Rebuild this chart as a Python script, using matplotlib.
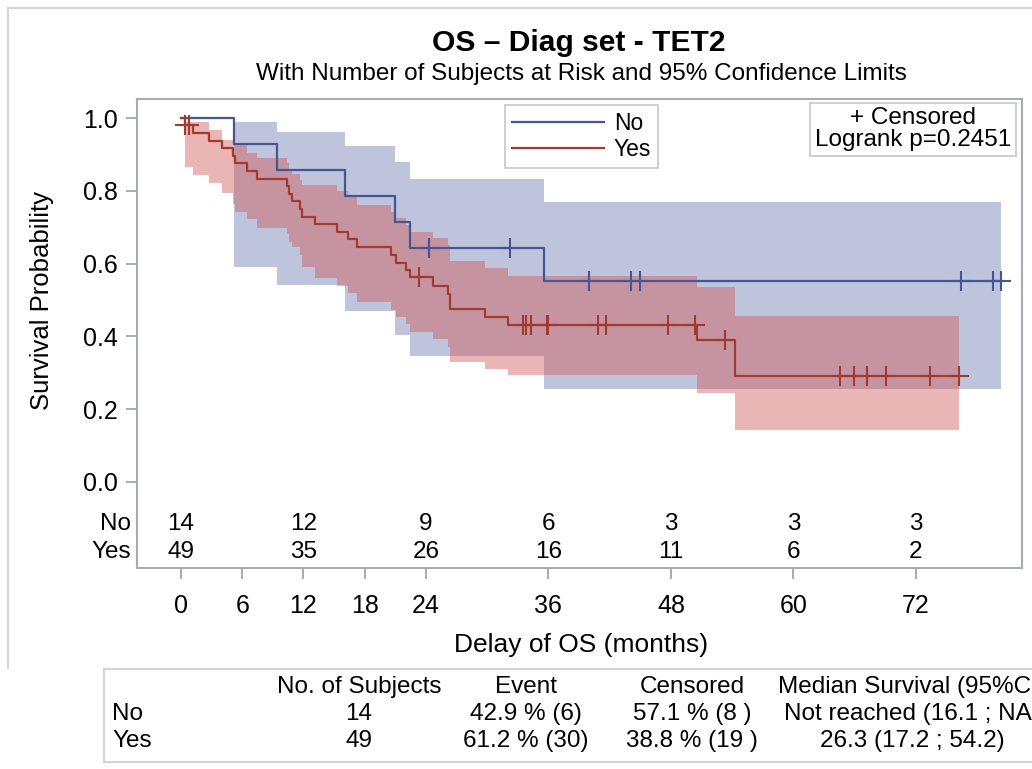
import numpy as np
import matplotlib.pyplot as plt
from matplotlib.lines import Line2D

plt.rcParams['font.family'] = ['Liberation Sans', 'DejaVu Sans']

# Kaplan-Meier steps (time in months, survival after the step)
no_time = [0, 5.2, 9.4, 16.1, 21.0, 22.4, 35.6]
no_surv = [1.0, 0.929, 0.857, 0.786, 0.714, 0.643, 0.551]
no_upper = [1.0, 0.988, 0.961, 0.924, 0.880, 0.832, 0.768]
no_lower = [1.0, 0.591, 0.541, 0.471, 0.404, 0.346, 0.255]
no_end = 80.3
no_cens = [24.3, 32.2, 40.0, 44.1, 45.0, 76.4, 79.6, 80.3]

yes_time = [0, 0.35, 1.2, 2.75, 3.98, 5.12, 5.3, 6.43, 7.48, 10.4, 10.6, 10.84, 11.66, 11.82,
            13.13, 15.31, 16.39, 17.2, 20.54, 21.06, 22.04, 22.43, 24.65, 26.18, 26.35, 29.78,
            32.06, 50.55, 54.27]
yes_surv = [1.0, 0.980, 0.960, 0.938, 0.917, 0.896, 0.876, 0.854, 0.833, 0.812, 0.792, 0.771,
            0.750, 0.729, 0.709, 0.688, 0.667, 0.645, 0.624, 0.603, 0.582, 0.562, 0.538, 0.516,
            0.474, 0.454, 0.431, 0.390, 0.291]
yes_upper = [1.0, 0.990, 0.990, 0.967, 0.940, 0.935, 0.925, 0.905, 0.890, 0.875, 0.860, 0.845,
             0.830, 0.816, 0.816, 0.800, 0.788, 0.761, 0.743, 0.724, 0.706, 0.688, 0.669, 0.650,
             0.608, 0.587, 0.566, 0.535, 0.457]
yes_lower = [1.0, 0.865, 0.843, 0.821, 0.793, 0.765, 0.743, 0.722, 0.697, 0.680, 0.660, 0.646,
             0.624, 0.590, 0.560, 0.538, 0.518, 0.495, 0.473, 0.454, 0.434, 0.413, 0.392, 0.370,
             0.330, 0.310, 0.293, 0.244, 0.143]
yes_end = 76.2
yes_cens = [0.4, 0.8, 23.35, 33.54, 33.77, 34.26, 35.83, 35.98, 40.81, 41.63, 47.67, 50.4,
            53.3, 64.6, 65.9, 67.2, 69.05, 73.4, 76.2]

# numbers at risk
risk_times = [0, 12, 24, 36, 48, 60, 72]
risk_no = [14, 12, 9, 6, 3, 3, 3]
risk_yes = [49, 35, 26, 16, 11, 6, 2]
xticks = [0, 6, 12, 18, 24, 36, 48, 60, 72]

# summary table
tab_header = ['No. of Subjects', 'Event', 'Censored', 'Median Survival (95%CI)']
tab_rows = ['No', 'Yes']
tab_subjects = ['14', '49']
tab_event = ['42.9 % (6)', '61.2 % (30)']
tab_censored = ['57.1 % (8 )', '38.8 % (19 )']
tab_median = ['Not reached (16.1 ; NA)', '26.3 (17.2 ; 54.2)']

blue_line, red_line = '#445694', '#A23A2E'
blue_fill, red_fill = '#6F7EB3', '#D05B5B'
gray = '#A8ACB0'

fig = plt.figure(figsize=(10.32, 7.69), dpi=100)
W, H = 1032, 769
ax = fig.add_axes([137 / W, 1 - 568 / H, (1022 - 137) / W, (568 - 99) / H])


def draw_group(times, surv, upper, lower, end, cens, lc, fc, label):
    t = list(times) + [end]
    ax.fill_between(t, list(lower) + [lower[-1]], list(upper) + [upper[-1]],
                    step='post', color=fc, alpha=0.45, linewidth=0, zorder=1)
    ax.step(t, list(surv) + [surv[-1]], where='post', color=lc, lw=1.6, zorder=3, label=label)
    idx = np.searchsorted(times, cens, side='right') - 1
    ax.plot(cens, np.array(surv)[idx], linestyle='none', marker='+', markersize=15,
            markeredgewidth=1.5, color=lc, zorder=4)


draw_group(no_time, no_surv, no_upper, no_lower, no_end, no_cens, blue_line, blue_fill, 'No')
draw_group(yes_time, yes_surv, yes_upper, yes_lower, yes_end, yes_cens, red_line, red_fill, 'Yes')

ax.set_xlim(-4.31, 82.4)
ax.set_ylim(-0.2363, 1.0522)
ax.set_yticks([0, 0.2, 0.4, 0.6, 0.8, 1.0])
ax.set_yticklabels(['0.0', '0.2', '0.4', '0.6', '0.8', '1.0'])
ax.set_xticks(xticks)
ax.tick_params(axis='both', labelsize=18, color=gray, width=1.4, length=8, pad=6)
ax.tick_params(axis='x', pad=11)
for sp in ax.spines.values():
    sp.set_color(gray)
    sp.set_linewidth(1.5)

ax.set_ylabel('Survival Probability', fontsize=18.5)
ax.yaxis.set_label_coords((42 - 137) / 885, (568 - 300) / 469)
ax.set_xlabel('Delay of OS (months)', fontsize=19)
ax.xaxis.set_label_coords((581 - 137) / 885, (568 - 645) / 469)
ax.xaxis.label.set_va('center')
ax.yaxis.label.set_va('center')

# at-risk rows inside the plot area
for y, name, vals in [(-0.1154, 'No', risk_no), (-0.1923, 'Yes', risk_yes)]:
    ax.text(-4.9, y, name, ha='right', va='center', fontsize=17.5)
    for t, v in zip(risk_times, vals):
        ax.text(t, y, str(v), ha='center', va='center', fontsize=17.5)

handles = [Line2D([], [], color=blue_line, lw=1.6), Line2D([], [], color=red_line, lw=1.6)]
leg = ax.legend(handles, ['No', 'Yes'], loc='upper left', bbox_to_anchor=(0.416, 0.987),
                borderaxespad=0, fontsize=16.5, handlelength=4.0, handletextpad=0.45,
                labelspacing=0.15, borderpad=0.3, fancybox=False, framealpha=1)
leg.get_frame().set_edgecolor('#CCCCCC')
leg.get_frame().set_linewidth(1.3)

ax.text(0.8768, 0.982, '+ Censored\nLogrank p=0.2451', transform=ax.transAxes, ha='center',
        va='top', fontsize=17.5, linespacing=1.0,
        bbox=dict(boxstyle='square,pad=0.2', facecolor='white', edgecolor='#CCCCCC', lw=1.3))

fig.text(0.5 * (432 + 725) / W, 1 - 43 / H, 'OS – Diag set - TET2', ha='center', va='center',
         fontsize=21.6, fontweight='bold')
fig.text(0.5 * (253 + 909) / W, 1 - 74 / H,
         'With Number of Subjects at Risk and 95% Confidence Limits',
         ha='center', va='center', fontsize=17.5)

# outer frame lines and table box
frame = '#D4D4D4'
fig.add_artist(Line2D([8 / W, 8 / W], [1 - 8 / H, 1 - 668 / H], color=frame, lw=1.5))
fig.add_artist(Line2D([8 / W, 1.0], [1 - 8 / H, 1 - 8 / H], color=frame, lw=1.5))
fig.add_artist(Line2D([104 / W, 1.0], [1 - 669 / H, 1 - 669 / H], color=frame, lw=1.5))
fig.add_artist(Line2D([104 / W, 1.0], [1 - 762 / H, 1 - 762 / H], color=frame, lw=1.5))
fig.add_artist(Line2D([104 / W, 104 / W], [1 - 669 / H, 1 - 762 / H], color=frame, lw=1.5))

col_x = [359, 526, 692, 912]
fs = 17.5
for x, h in zip(col_x, tab_header):
    fig.text(x / W, 1 - 687 / H, h, ha='center', va='center', fontsize=fs)
for i, y in enumerate([714, 741]):
    fig.text(112 / W, 1 - y / H, tab_rows[i], ha='left', va='center', fontsize=fs)
    for x, col in zip(col_x, [tab_subjects, tab_event, tab_censored, tab_median]):
        fig.text(x / W, 1 - y / H, col[i], ha='center', va='center', fontsize=fs)

fig.savefig('out.png', dpi=100)
